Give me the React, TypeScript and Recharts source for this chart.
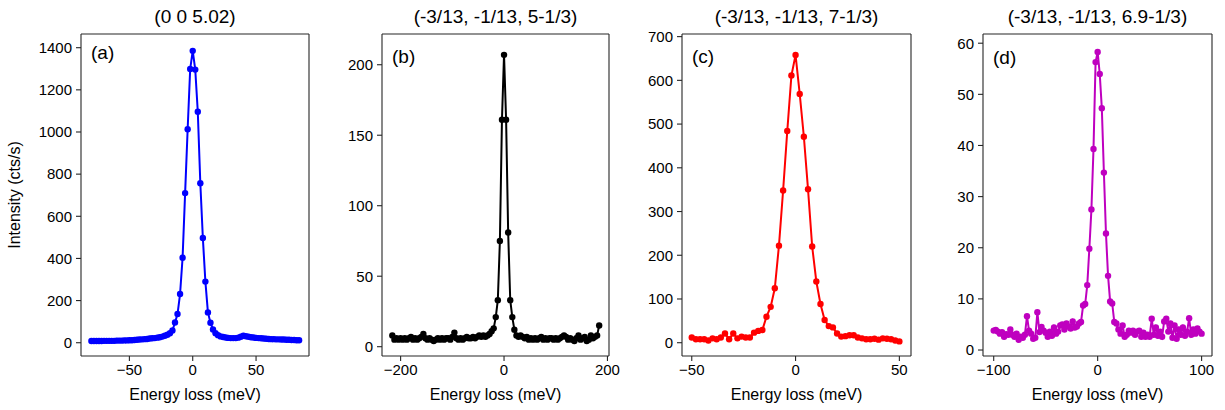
import { LineChart, Line, XAxis, YAxis, ReferenceLine } from "recharts";

// (a) (0 0 5.02)
const energyA = [
  -80, -78, -76, -74, -72, -70, -68, -66, -64, -62, -60, -58, -56, -54, -52, -50, -48, -46, -44, -42,
  -40, -38, -36, -34, -32, -30, -28, -26, -24, -22, -20, -18, -16, -14, -12, -10, -8, -6, -4, -2,
  0, 2, 4, 6, 8, 10, 12, 14, 16, 18, 20, 22, 24, 26, 28, 30, 32, 34, 36, 38,
  40, 42, 44, 46, 48, 50, 52, 54, 56, 58, 60, 62, 64, 66, 68, 70, 72, 74, 76, 78,
  80, 82, 84,
];
const intensityA = [
  8, 8, 8, 8, 8, 9, 9, 9, 9, 9, 10, 10, 10, 11, 11, 12, 12, 13, 14, 15,
  16, 17, 18, 20, 21, 22, 24, 26, 29, 33, 38, 45, 58, 96, 136, 231, 403, 710, 1013, 1299,
  1385, 1296, 1096, 757, 497, 290, 144, 95, 63, 45, 36, 30, 27, 25, 23, 22, 22, 22, 24, 28,
  33, 31, 28, 26, 25, 23, 22, 21, 20, 19, 18, 17, 17, 16, 16, 15, 15, 14, 14, 13,
  13, 12, 12,
];

// (b) (-3/13, -1/13, 5-1/3)
const energyB = [
  -216, -212, -208, -204, -200, -196, -192, -188, -184, -180, -176, -172, -168, -164, -160, -156, -152, -148, -144, -140,
  -136, -132, -128, -124, -120, -116, -112, -108, -104, -100, -96, -92, -88, -84, -80, -76, -72, -68, -64, -60,
  -56, -52, -48, -44, -40, -36, -32, -28, -24, -20, -16, -12, -8, -4, 0, 4, 8, 12, 16, 20,
  24, 28, 32, 36, 40, 44, 48, 52, 56, 60, 64, 68, 72, 76, 80, 84, 88, 92, 96, 100,
  104, 108, 112, 116, 120, 124, 128, 132, 136, 140, 144, 148, 152, 156, 160, 164, 168, 172, 176, 180,
  184,
];
const intensityB = [
  8, 5, 6, 5, 6, 5, 6, 5, 6, 7, 5, 6, 5, 6, 7, 9, 6, 5, 6, 5,
  4, 5, 6, 5, 6, 5, 6, 6, 5, 7, 10, 6, 5, 6, 5, 6, 7, 6, 6, 7,
  6, 7, 8, 7, 8, 7, 8, 9, 11, 13, 21, 33, 75, 161, 207, 161, 81, 33, 21, 12,
  8, 7, 8, 7, 6, 7, 5, 6, 5, 6, 5, 6, 7, 5, 6, 5, 6, 6, 5, 6,
  5, 6, 7, 8, 7, 5, 6, 5, 4, 6, 8, 5, 6, 7, 4, 5, 8, 6, 7, 8,
  15,
];

// (c) (-3/13, -1/13, 7-1/3)
const energyC = [
  -50, -48, -46, -44, -42, -40, -38, -36, -34, -32, -30, -28, -26, -24, -22, -20, -18, -16, -14, -12,
  -10, -8, -6, -4, -2, 0, 2, 4, 6, 8, 10, 12, 14, 16, 18, 20, 22, 24, 26, 28,
  30, 32, 34, 36, 38, 40, 42, 44, 46, 48, 50,
];
const intensityC = [
  12, 8, 8, 8, 5, 10, 8, 12, 21, 8, 21, 10, 14, 12, 12, 23, 27, 29, 59.5, 82,
  124.5, 222, 348, 484, 611, 658, 569, 471, 351, 220, 140, 88.6, 52, 38, 35, 21, 14, 15, 17, 17,
  12, 10, 8, 8, 9, 7, 10, 9, 8, 5, 3,
];

// (d) (-3/13, -1/13, 6.9-1/3)
const energyD = [
  -100, -98, -96, -94, -92, -90, -88, -86, -84, -82, -80, -78, -76, -74, -72, -70, -68, -66, -64, -62,
  -60, -58, -56, -54, -52, -50, -48, -46, -44, -42, -40, -38, -36, -34, -32, -30, -28, -26, -24, -22,
  -20, -18, -16, -14, -12, -10, -8, -6, -4, -2, 0, 2, 4, 6, 8, 10, 12, 14, 16, 18,
  20, 22, 24, 26, 28, 30, 32, 34, 36, 38, 40, 42, 44, 46, 48, 50, 52, 54, 56, 58,
  60, 62, 64, 66, 68, 70, 72, 74, 76, 78, 80, 82, 84, 86, 88, 90, 92, 94, 96, 98,
  100,
];
const intensityD = [
  3.8, 3.9, 3.6, 3.2, 3.5, 2.6, 3.1, 3.0, 4.0, 3.0, 2.6, 3.2, 2.0, 2.6, 2.4, 3.0, 6.6, 3.8, 3.2, 2.2,
  2.4, 7.4, 3.5, 4.5, 3.8, 3.4, 2.6, 3.6, 2.8, 4.4, 3.2, 3.6, 4.8, 5.0, 4.0, 5.2, 4.6, 4.2, 5.6, 4.4,
  4.6, 5.2, 5.5, 8.7, 9.0, 12.7, 19.8, 27.5, 39.3, 56.3, 58.3, 54.0, 47.3, 34.7, 22.8, 14.5, 9.5, 9.1, 5.5, 5.2,
  4.0, 3.2, 4.8, 2.6, 3.0, 3.8, 3.4, 3.8, 3.0, 3.6, 3.8, 2.6, 3.4, 2.6, 3.0, 2.6, 6.1, 3.0, 4.4, 2.8,
  3.6, 2.6, 5.6, 6.1, 3.6, 5.2, 2.4, 4.8, 2.2, 4.0, 3.0, 4.4, 2.8, 3.6, 6.2, 3.0, 4.0, 3.2, 4.2, 3.6,
  3.2,
];

const titles = [
  "(0 0 5.02)",
  "(-3/13, -1/13, 5-1/3)",
  "(-3/13, -1/13, 7-1/3)",
  "(-3/13, -1/13, 6.9-1/3)",
];
const panelLetters = ["(a)", "(b)", "(c)", "(d)"];
const xTicksA = [-50, 0, 50];
const xTicksB = [-200, 0, 200];
const xTicksC = [-50, 0, 50];
const xTicksD = [-100, 0, 100];
const yTicksA = [0, 200, 400, 600, 800, 1000, 1200, 1400];
const yTicksB = [0, 50, 100, 150, 200];
const yTicksC = [0, 100, 200, 300, 400, 500, 600, 700];
const yTicksD = [0, 10, 20, 30, 40, 50, 60];

const FONT = "'Liberation Sans', Arial, Helvetica, sans-serif";
const SPINE = "#262626";
const TOP = 34;
const BOTTOM = 356;
const YW = 56;
const RIGHT = 24;
const TICK_FONT = 15;

const fmt = (v: number) => String(v).replace("-", "\u2212");

function Panel({ left, width, energies, values, color, xDomain, xTicks, yDomain, yTicks }: any) {
  const data = energies.map((e: number, i: number) => ({ e, v: values[i] }));
  return (
    <div style={{ position: "absolute", left: left - YW, top: 0 }}>
      <LineChart
        width={YW + width + RIGHT}
        height={410}
        data={data}
        margin={{ top: TOP, right: RIGHT, bottom: 0, left: 0 }}
      >
        <XAxis
          type="number"
          dataKey="e"
          domain={xDomain}
          ticks={xTicks}
          allowDataOverflow
          interval={0}
          height={410 - BOTTOM}
          tickSize={5}
          tickMargin={3}
          tickFormatter={fmt}
          axisLine={{ stroke: SPINE, strokeWidth: 1.1 }}
          tickLine={{ stroke: SPINE, strokeWidth: 1.1 }}
          tick={{ fontSize: TICK_FONT, fill: "#000", fontFamily: FONT }}
        />
        <YAxis
          type="number"
          domain={yDomain}
          ticks={yTicks}
          allowDataOverflow
          interval={0}
          width={YW}
          tickSize={5}
          tickMargin={4}
          tickFormatter={fmt}
          axisLine={{ stroke: SPINE, strokeWidth: 1.1 }}
          tickLine={{ stroke: SPINE, strokeWidth: 1.1 }}
          tick={{ fontSize: TICK_FONT, fill: "#000", fontFamily: FONT }}
        />
        <ReferenceLine x={xDomain[1]} stroke={SPINE} strokeWidth={1.1} />
        <ReferenceLine y={yDomain[1]} stroke={SPINE} strokeWidth={1.1} />
        <Line
          type="linear"
          dataKey="v"
          stroke={color}
          strokeWidth={2}
          dot={{ r: 3.2, fill: color, stroke: color, strokeWidth: 0 }}
          activeDot={false}
          isAnimationActive={false}
        />
      </LineChart>
    </div>
  );
}

const panels = [
  { left: 81, width: 228, energies: energyA, values: intensityA, color: "#0000ff", xDomain: [-88.2, 91.8], xTicks: xTicksA, yDomain: [-63, 1465], yTicks: yTicksA, letterY: 59 },
  { left: 382, width: 227, energies: energyB, values: intensityB, color: "#000000", xDomain: [-236, 203], xTicks: xTicksB, yDomain: [-6.6, 221.8], yTicks: yTicksB, letterY: 63 },
  { left: 682, width: 229, energies: energyC, values: intensityC, color: "#ff0000", xDomain: [-54.7, 55.6], xTicks: xTicksC, yDomain: [-30.4, 706], yTicks: yTicksC, letterY: 63 },
  { left: 983, width: 229, energies: energyD, values: intensityD, color: "#bf00bf", xDomain: [-110.3, 110], xTicks: xTicksD, yDomain: [-1.17, 61.8], yTicks: yTicksD, letterY: 64 },
];

export default function App() {
  return (
    <div style={{ position: "absolute", left: 0, top: 0, width: 1225, height: 410, background: "#fff", fontFamily: FONT, overflow: "hidden" }}>
      {panels.map((p, i) => (
        <Panel key={i} {...p} />
      ))}
      <svg width={1225} height={410} style={{ position: "absolute", left: 0, top: 0, pointerEvents: "none" }}>
        {panels.map((p, i) => {
          const cx = p.left + p.width / 2;
          return (
            <g key={i} fontFamily={FONT} fill="#000">
              <text x={cx} y={23} fontSize={19} textAnchor="middle">{titles[i]}</text>
              <text x={p.left + 10} y={p.letterY} fontSize={19}>{panelLetters[i]}</text>
              <text x={cx} y={400} fontSize={16} textAnchor="middle">Energy loss (meV)</text>
            </g>
          );
        })}
        <text
          x={0}
          y={0}
          fontFamily={FONT}
          fontSize={16}
          textAnchor="middle"
          transform="translate(20 195) rotate(-90)"
        >
          Intensity (cts/s)
        </text>
      </svg>
    </div>
  );
}
